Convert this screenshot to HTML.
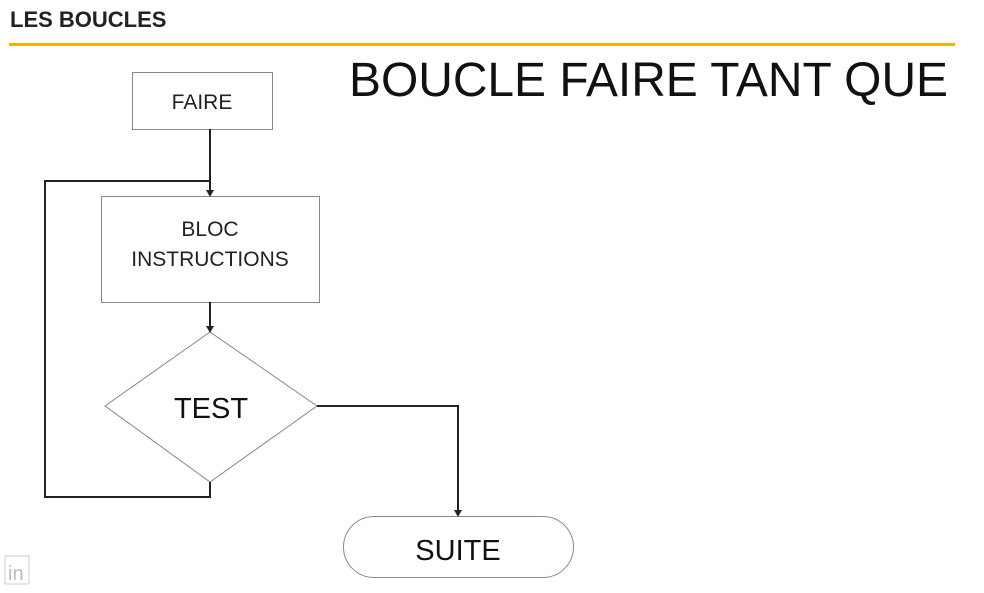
<!DOCTYPE html>
<html><head><style>
body{margin:0;background:#fff;width:984px;height:588px;overflow:hidden}
</style></head><body>
<svg width="984" height="588" xmlns="http://www.w3.org/2000/svg" style="font-family:'Liberation Sans',sans-serif">
<text x="10" y="27" font-size="22" font-weight="bold" fill="#222">LES BOUCLES</text>
<line x1="9" y1="44.5" x2="955" y2="44.5" stroke="#f2b300" stroke-width="3"/>
<text x="349" y="96" font-size="48" fill="#111" textLength="599" lengthAdjust="spacingAndGlyphs">BOUCLE FAIRE TANT QUE</text>
<rect x="132.5" y="72.5" width="140" height="57" fill="#fff" stroke="#888"/>
<text x="202" y="109" font-size="21" text-anchor="middle" fill="#222">FAIRE</text>
<rect x="101.5" y="196.5" width="218" height="106" fill="#fff" stroke="#888"/>
<text x="210" y="236" font-size="21" text-anchor="middle" fill="#222">BLOC</text>
<text x="210" y="266" font-size="21" text-anchor="middle" fill="#222">INSTRUCTIONS</text>
<polygon points="210,332 317,406 210,482 105,406" fill="#fff" stroke="#888"/>
<text x="211" y="418" font-size="29" text-anchor="middle" fill="#111">TEST</text>
<rect x="343.5" y="516.5" width="230" height="61" rx="30.5" fill="#fff" stroke="#888"/>
<text x="458" y="560" font-size="29" text-anchor="middle" fill="#111">SUITE</text>
<g stroke="#222" stroke-width="2" fill="none">
<line x1="210" y1="129" x2="210" y2="192"/>
<polyline points="210,482 210,497 45,497 45,181 210,181"/>
<line x1="210" y1="302" x2="210" y2="328"/>
<polyline points="317,406 458,406 458,512"/>
</g>
<g fill="#222">
<polygon points="206,190 214,190 210,197"/>
<polygon points="206,326 214,326 210,333"/>
<polygon points="454,510 462,510 458,517"/>
</g>
<rect x="5" y="556" width="24" height="28" fill="none" stroke="#ccc"/>
<text x="8" y="580" font-size="20" fill="#bbb">in</text>
</svg>
</body></html>
